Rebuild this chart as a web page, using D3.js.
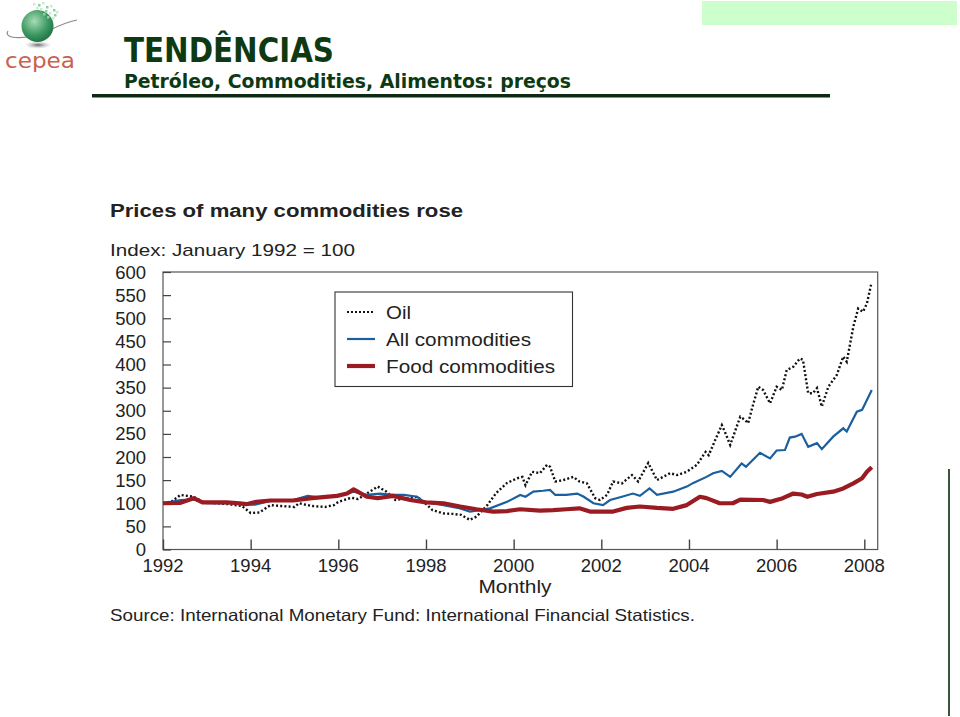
<!DOCTYPE html>
<html><head><meta charset="utf-8">
<script src="https://cdn.jsdelivr.net/npm/d3@7"></script>
<style>body{margin:0;background:#fff}svg{display:block}</style>
</head><body>
<svg id="c" width="960" height="717"></svg>
<script>
// ---- data (decimal year, index Jan 1992 = 100) ----
const oilDates = [1992.0,1992.2,1992.4,1992.7,1992.9,1993.2,1993.5,1993.8,1994.0,1994.2,1994.45,1994.7,1995.0,1995.1,1995.4,1995.7,1995.9,1996.0,1996.3,1996.45,1996.7,1996.9,1997.1,1997.3,1997.55,1997.8,1997.95,1998.15,1998.4,1998.6,1998.8,1999.0,1999.15,1999.4,1999.6,1999.85,2000.08,2000.2,2000.27,2000.42,2000.6,2000.76,2000.83,2000.95,2001.13,2001.36,2001.5,2001.67,2001.86,2001.97,2002.13,2002.27,2002.47,2002.7,2002.84,2003.07,2003.27,2003.57,2003.73,2003.95,2004.18,2004.38,2004.45,2004.6,2004.75,2004.83,2004.94,2005.17,2005.28,2005.35,2005.43,2005.58,2005.69,2005.85,2006.0,2006.12,2006.23,2006.38,2006.53,2006.6,2006.72,2006.83,2006.92,2007.03,2007.18,2007.37,2007.52,2007.6,2007.75,2007.86,2007.97,2008.06,2008.16];
const oilValues = [100,104,118,114,103,100,98,94,79,80,96,94,92,100,94,92,96,103,112,109,124,136,125,107,110,114,103,85,78,77,75,64,71,96,122,144,154,157,139,168,165,183,179,147,150,157,147,143,111,107,118,147,143,161,147,187,150,165,161,168,183,211,204,237,269,252,226,287,280,273,302,352,345,316,352,345,388,395,413,410,338,338,349,309,352,377,417,406,482,521,514,532,575];

const allDates = [1992.0,1992.4,1992.7,1993.0,1993.5,1993.8,1994.1,1994.45,1994.97,1995.3,1995.6,1996.0,1996.2,1996.35,1996.65,1996.95,1997.25,1997.5,1997.8,1997.95,1998.4,1998.78,1999.0,1999.23,1999.46,1999.85,2000.15,2000.27,2000.45,2000.67,2000.83,2000.95,2001.2,2001.45,2001.6,2001.82,2002.04,2002.2,2002.47,2002.72,2002.88,2003.1,2003.27,2003.64,2003.95,2004.1,2004.4,2004.55,2004.75,2004.94,2005.2,2005.3,2005.62,2005.85,2006.0,2006.19,2006.3,2006.42,2006.57,2006.72,2006.92,2007.03,2007.29,2007.52,2007.6,2007.83,2007.95,2008.06,2008.17];
const allValues = [100,107,108,100,101,97,97,105,107,116,112,116,121,125,118,121,118,118,114,103,96,89,82,85,89,103,118,114,125,127,129,118,118,121,114,100,96,107,114,121,116,132,118,125,136,144,157,165,170,157,186,179,209,197,214,215,242,244,250,222,230,217,244,262,255,298,302,323,345];

const foodDates = [1992.0,1992.4,1992.7,1992.9,1993.45,1993.75,1993.9,1994.13,1994.45,1994.97,1995.4,1995.97,1996.2,1996.35,1996.65,1996.9,1997.25,1997.64,1998.0,1998.4,1998.78,1999.15,1999.53,1999.85,2000.15,2000.6,2000.9,2001.2,2001.5,2001.74,2002.27,2002.58,2002.88,2003.27,2003.64,2003.95,2004.25,2004.4,2004.7,2005.0,2005.17,2005.69,2005.85,2006.14,2006.38,2006.57,2006.7,2006.92,2007.29,2007.52,2007.75,2007.95,2008.06,2008.17];
const foodValues = [100,101,111,102,102,100,98,103,106,106,111,116,121,130,114,111,116,107,102,100,93,87,82,83,87,84,85,87,89,82,82,90,93,90,88,96,114,111,100,100,108,107,103,111,121,119,114,120,125,132,143,154,168,178];

const yTicks = [0,50,100,150,200,250,300,350,400,450,500,550,600];
const xTicks = [1992,1994,1996,1998,2000,2002,2004,2006,2008];
const legendLabels = ["Oil","All commodities","Food commodities"];

const svg = d3.select("#c");
const F = "'Liberation Sans', Arial, Helvetica, sans-serif";

// ---- header ----
svg.append("rect").attr("x",702).attr("y",1).attr("width",255).attr("height",24).attr("fill","#ccffcc");
svg.append("line").attr("x1",949).attr("x2",949).attr("y1",469).attr("y2",716).attr("stroke","#3b553b").attr("stroke-width",2);

// logo
const defs = svg.append("defs");
const g1 = defs.append("radialGradient").attr("id","globe").attr("cx","40%").attr("cy","35%").attr("r","70%");
g1.append("stop").attr("offset","0%").attr("stop-color","#a8dcb4");
g1.append("stop").attr("offset","60%").attr("stop-color","#3d9a63");
g1.append("stop").attr("offset","100%").attr("stop-color","#1f6e42");
const g2 = defs.append("radialGradient").attr("id","shadow");
g2.append("stop").attr("offset","0%").attr("stop-color","#666");
g2.append("stop").attr("offset","100%").attr("stop-color","#ccc").attr("stop-opacity",0);
svg.append("ellipse").attr("cx",38).attr("cy",45).attr("rx",14).attr("ry",4).attr("fill","url(#shadow)");
svg.append("path").attr("d","M 8 31 C 2 40, 30 40, 50 30 C 62 24, 72 21, 77 20").attr("fill","none").attr("stroke","#8a8a8a").attr("stroke-width",1.2);
svg.append("circle").attr("cx",37.5).attr("cy",26).attr("r",16).attr("fill","url(#globe)");
const dots = [[33,3],[38,4],[42,2],[46,6],[50,5],[53,9],[40,8],[45,10],[49,12],[54,14],[36,7],[43,13],[52,17],[47,16],[56,11]];
svg.selectAll(".dot").data(dots).join("rect").attr("x",d=>d[0]).attr("y",d=>d[1]).attr("width",2.5).attr("height",2.5).attr("fill",(d,i)=>i%2?"#8fcf9f":"#cfe9d4");
svg.append("text").attr("x",40).attr("y",68).attr("text-anchor","middle").attr("font-family","'DejaVu Sans', sans-serif").attr("font-size",22).attr("fill","#c8614f").attr("textLength",70).attr("lengthAdjust","spacingAndGlyphs").text("cepea");

svg.append("text").attr("x",124).attr("y",62).attr("font-family","'DejaVu Sans', Verdana, sans-serif").attr("font-weight","bold").attr("font-size",33).attr("fill","#0d3a12").attr("textLength",210).attr("lengthAdjust","spacingAndGlyphs").text("TENDÊNCIAS");
svg.append("text").attr("x",124).attr("y",88).attr("font-family","'DejaVu Sans', Verdana, sans-serif").attr("font-weight","bold").attr("font-size",20).attr("fill","#0d3a12").attr("textLength",447).attr("lengthAdjust","spacingAndGlyphs").text("Petróleo, Commodities, Alimentos: preços");
svg.append("rect").attr("x",92).attr("y",94).attr("width",738).attr("height",3.5).attr("fill","#0f2a12");

// ---- chart ----
const L=163, R=877.7, T=272, B=549.5;
const x = d3.scaleLinear().domain([1992, 2008]).range([L, 864.3]);
const y = d3.scaleLinear().domain([0, 600]).range([B, T]);

svg.append("text").attr("x",110).attr("y",217).attr("font-family",F).attr("font-weight","bold").attr("font-size",18).attr("fill","#222").attr("textLength",353).attr("lengthAdjust","spacingAndGlyphs").text("Prices of many commodities rose");
svg.append("text").attr("x",110).attr("y",256).attr("font-family",F).attr("font-size",17).attr("fill","#222").attr("textLength",245).attr("lengthAdjust","spacingAndGlyphs").text("Index: January 1992 = 100");

// frame
svg.append("rect").attr("x",L).attr("y",T).attr("width",R-L).attr("height",B-T).attr("fill","none").attr("stroke","#555").attr("stroke-width",1.2);

// y axis
const yAx = svg.append("g").attr("transform",`translate(${L},0)`)
  .call(d3.axisRight(y).tickValues(yTicks).tickSize(8).tickFormat(""));
yAx.select(".domain").remove();
yAx.selectAll("line").attr("stroke","#444").attr("stroke-width",1.2);
svg.append("g").selectAll("text").data(yTicks).join("text")
  .attr("x",146).attr("y",d=>y(d)+6.5).attr("text-anchor","end")
  .attr("font-family",F).attr("font-size",18.5).attr("fill","#222").text(d=>d);

// x axis
const xAx = svg.append("g").attr("transform",`translate(0,${B})`)
  .call(d3.axisTop(x).tickValues(xTicks).tickSize(10).tickFormat(""));
xAx.select(".domain").remove();
xAx.selectAll("line").attr("stroke","#444").attr("stroke-width",1.4);
svg.append("g").selectAll("text").data(xTicks).join("text")
  .attr("x",d=>x(d)).attr("y",572).attr("text-anchor","middle")
  .attr("font-family",F).attr("font-size",18.5).attr("fill","#222").text(d=>d);
svg.append("text").attr("x",515).attr("y",593).attr("text-anchor","middle").attr("font-family",F).attr("font-size",18).attr("fill","#222").attr("textLength",73).attr("lengthAdjust","spacingAndGlyphs").text("Monthly");
svg.append("text").attr("x",110).attr("y",621).attr("font-family",F).attr("font-size",16.5).attr("fill","#222").attr("textLength",585).attr("lengthAdjust","spacingAndGlyphs").text("Source:  International Monetary Fund:  International Financial Statistics.");

// series
const line = d3.line().x(d=>x(d[0])).y(d=>y(d[1])).curve(d3.curveLinear);
const zip = (a,b)=>a.map((d,i)=>[d,b[i]]);
svg.append("path").datum(zip(oilDates,oilValues)).attr("d",line).attr("fill","none").attr("stroke","#111").attr("stroke-width",2.4).attr("stroke-dasharray","2,2.2");
svg.append("path").datum(zip(allDates,allValues)).attr("d",line).attr("fill","none").attr("stroke","#1a5f9e").attr("stroke-width",2.2);
svg.append("path").datum(zip(foodDates,foodValues)).attr("d",line).attr("fill","none").attr("stroke","#9b1b22").attr("stroke-width",4.2).attr("stroke-linejoin","round");

// legend
svg.append("rect").attr("x",335).attr("y",292).attr("width",237.5).attr("height",94.5).attr("fill","#fff").attr("stroke","#333").attr("stroke-width",1.1);
const lg = [{c:"#111",w:2.2,da:"2,2"},{c:"#1a5f9e",w:2.2,da:null},{c:"#9b1b22",w:4.2,da:null}];
const lgLen = [25,145,169];
lg.forEach((s,i)=>{
  const yy = 312 + i*27;
  svg.append("line").attr("x1",347).attr("x2",375).attr("y1",yy).attr("y2",yy).attr("stroke",s.c).attr("stroke-width",s.w).attr("stroke-dasharray",s.da);
  svg.append("text").attr("x",386).attr("y",yy+6.5).attr("font-family",F).attr("font-size",18).attr("fill","#222").attr("textLength",lgLen[i]).attr("lengthAdjust","spacingAndGlyphs").text(legendLabels[i]);
});
</script>
</body></html>
